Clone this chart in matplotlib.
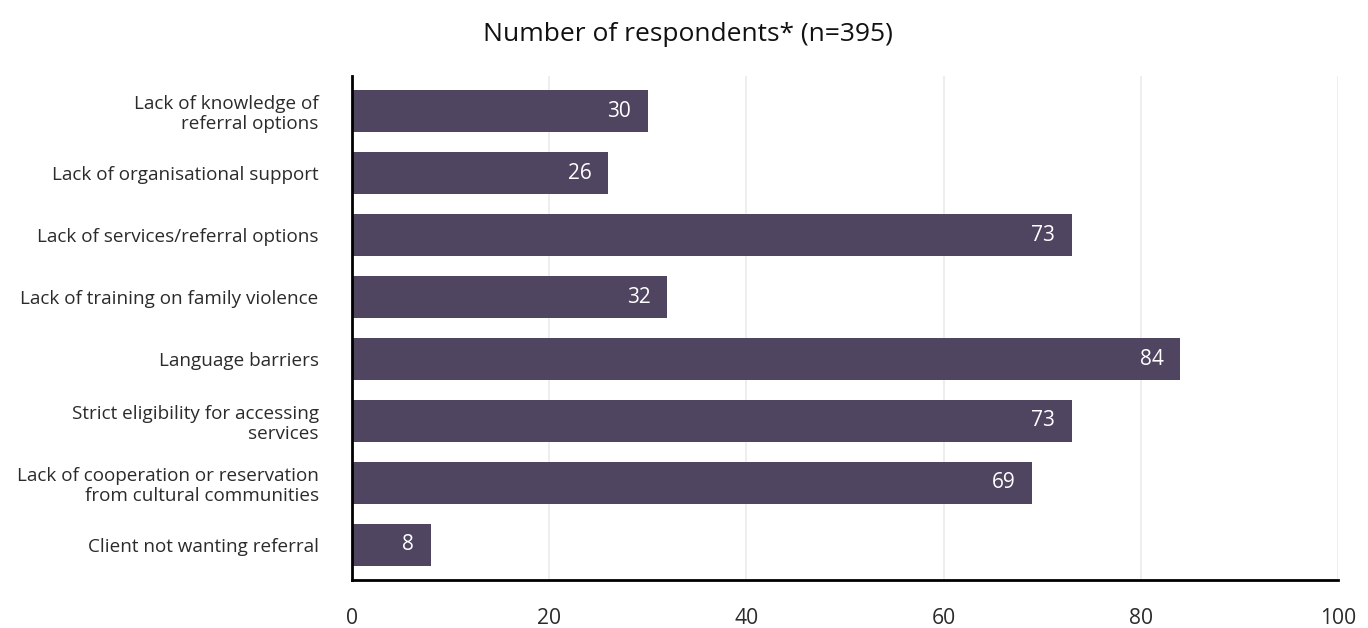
import matplotlib.pyplot as plt

plt.rcParams['font.family'] = ['Open Sans', 'DejaVu Sans']

categories = [
    "Lack of knowledge of\nreferral options",
    "Lack of organisational support",
    "Lack of services/referral options",
    "Lack of training on family violence",
    "Language barriers",
    "Strict eligibility for accessing\nservices",
    "Lack of cooperation or reservation\nfrom cultural communities",
    "Client not wanting referral",
]
counts = [30, 26, 73, 32, 84, 73, 69, 8]
xticks = [0, 20, 40, 60, 80, 100]

bar_color = "#4f4560"
text_color = "#2b2b2b"

fig = plt.figure(figsize=(13.68, 6.28), dpi=100)
ax = fig.add_axes([0.2573, 0.0764, 0.7207, 0.8026])

pos = list(range(len(categories)))
ax.barh(pos, counts, height=0.68, color=bar_color, zorder=2)

# value labels sit inside the bar, near its end
for y, v in zip(pos, counts):
    ax.annotate(str(v), xy=(v, y), xytext=(-12, 0), textcoords="offset points",
                ha="right", va="center", color="white", fontsize=15)

ax.set_xlim(0, 100)
ax.set_ylim(len(categories) - 0.435, -0.565)
ax.set_xticks(xticks)
ax.set_yticks(pos)
ax.set_yticklabels(categories, fontsize=13.6, linespacing=1.12, color=text_color)
ax.tick_params(axis="y", length=0, pad=24)
ax.tick_params(axis="x", length=0, pad=20, labelsize=15.2, labelcolor=text_color)

ax.grid(axis="x", color="#ebebeb", linewidth=1.2, zorder=0)
ax.set_axisbelow(True)

for side in ["top", "right"]:
    ax.spines[side].set_visible(False)
ax.spines["left"].set_linewidth(2)
ax.spines["bottom"].set_linewidth(2)

fig.text(0.503, 0.945, "Number of respondents* (n=395)", ha="center", va="center",
         fontsize=19, color="#111111")

fig.savefig("out.png", dpi=100)
